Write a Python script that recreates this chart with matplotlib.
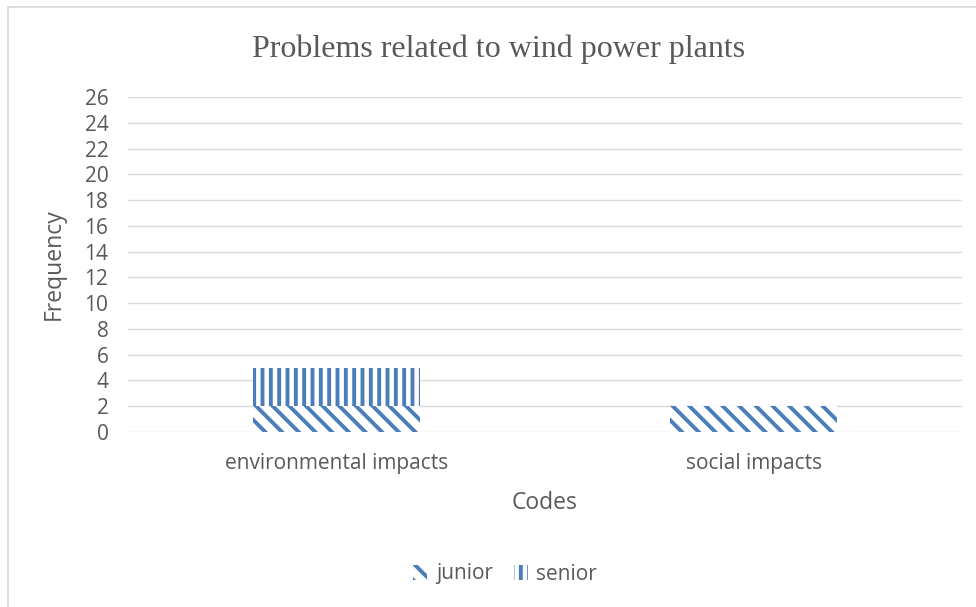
import matplotlib.pyplot as plt
from matplotlib.lines import Line2D

categories = ['environmental impacts', 'social impacts']
junior = [2, 2]
senior = [3, 0]
series_names = ['junior', 'senior']
yticks = list(range(0, 27, 2))

blue = '#4a7ebb'
gray = '#595959'

plt.rcParams['font.family'] = ['Open Sans', 'DejaVu Sans']
plt.rcParams['hatch.linewidth'] = 2.8

fig = plt.figure(figsize=(9.76, 6.07), dpi=100)
ax = fig.add_axes([0.131, 0.2883, 0.855, 0.5519])

x = range(len(categories))
b1 = ax.bar(x, junior, width=0.4, color='white', edgecolor=blue, linewidth=0,
            hatch='\\\\', label=series_names[0])
b2 = ax.bar(x, senior, width=0.4, bottom=junior, color='white', edgecolor=blue,
            linewidth=0, hatch='||', label=series_names[1])

ax.set_xlim(-0.5, len(categories) - 0.5)
ax.set_ylim(0, 26)
ax.set_yticks(yticks)
ax.set_xticks(list(x))
ax.set_xticklabels(categories)
ax.yaxis.grid(True, color='#d9d9d9', linewidth=1)
ax.set_axisbelow(True)
for s in ax.spines.values():
    s.set_visible(False)
ax.tick_params(axis='both', length=0, labelsize=15, colors=gray)
ax.tick_params(axis='y', pad=14)
ax.tick_params(axis='x', pad=15)

fig.text(499 / 976, 1 - 49 / 607, 'Problems related to wind power plants',
         ha='center', va='center', fontsize=23, color=gray,
         family=['Liberation Serif', 'DejaVu Serif'])
fig.text(54 / 976, 1 - 264 / 607, 'Frequency', rotation=90, ha='center',
         va='center', fontsize=16.5, color=gray)
fig.text(545 / 976, 1 - 503 / 607, 'Codes', ha='center', va='center',
         fontsize=16.5, color=gray)

leg = fig.legend(handles=[b1, b2], loc='center', bbox_to_anchor=(505 / 976, 1 - 574 / 607),
                 ncol=2, frameon=False, fontsize=15, handlelength=0.7,
                 handleheight=0.7, columnspacing=1.0, handletextpad=0.4)
for t in leg.get_texts():
    t.set_color(gray)

# chart border
fig.add_artist(Line2D([8 / 976, 8 / 976], [0, 1 - 7 / 607], color='#d9d9d9', lw=1.2))
fig.add_artist(Line2D([8 / 976, 1], [1 - 7 / 607, 1 - 7 / 607], color='#d9d9d9', lw=1.2))

fig.savefig('out.png', dpi=100)
